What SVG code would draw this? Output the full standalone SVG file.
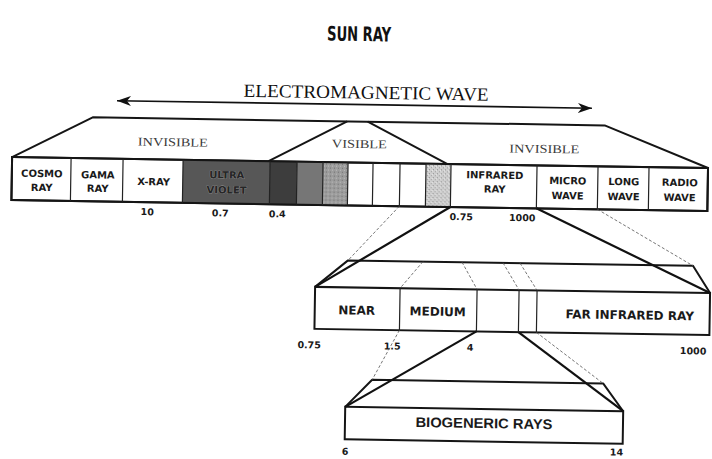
<svg xmlns="http://www.w3.org/2000/svg" width="712" height="459" viewBox="0 0 712 459">
<defs>
<style>
.o{fill:none;stroke:#151515;stroke-width:2;stroke-linejoin:round}
.box{fill:#fff;stroke:#151515;stroke-width:2}
.d{stroke:#222;stroke-width:1.2}
.t{fill:none;stroke:#555;stroke-width:0.8;stroke-dasharray:3 2}
.k{fill:none;stroke:#111;stroke-width:2.2}
.lb{font-family:"DejaVu Sans",Verdana,sans-serif;font-weight:bold;font-size:10px;fill:#1a1a1a;text-anchor:middle}
.lm{font-size:12px}
.num{font-size:9.5px}
.sf{font-family:"Liberation Serif","Times New Roman",serif;fill:#3a3a3a;text-anchor:middle}
.uv{fill:#262626;stroke:#9a9a9a;stroke-width:0.6;paint-order:stroke}
</style>
<marker id="ah" viewBox="0 0 14 10" refX="14" refY="5" markerWidth="14" markerHeight="10" markerUnits="userSpaceOnUse" orient="auto-start-reverse">
<path d="M0,0 L14,5 L0,10 L4,5 z" fill="#111"/>
</marker>
<pattern id="sp1" width="4" height="4" patternUnits="userSpaceOnUse">
<rect width="4" height="4" fill="#cfcfcf"/>
<rect x="0" y="0" width="1" height="1" fill="#8a8a8a"/>
<rect x="2" y="2" width="1" height="1" fill="#9a9a9a"/>
<rect x="3" y="1" width="1" height="1" fill="#eee"/>
</pattern>
<pattern id="sp2" width="4" height="4" patternUnits="userSpaceOnUse">
<rect width="4" height="4" fill="#9c9c9c"/>
<rect x="1" y="0" width="1" height="1" fill="#6e6e6e"/>
<rect x="3" y="2" width="1" height="1" fill="#c0c0c0"/>
</pattern>
</defs>
<rect width="712" height="459" fill="#fff"/>
<g transform="rotate(0.9 356 230)">

<g id="title">
<text x="356" y="41" font-family="'DejaVu Sans',sans-serif" font-stretch="condensed" font-weight="bold" font-size="20" fill="#111" text-anchor="middle" textLength="64" lengthAdjust="spacingAndGlyphs">SUN RAY</text>
</g>

<g id="em-wave">
<text x="364" y="98.5" font-family="'Liberation Serif',serif" font-size="18.5" fill="#111" text-anchor="middle" textLength="245" lengthAdjust="spacingAndGlyphs">ELECTROMAGNETIC WAVE</text>
<line x1="115" y1="104.5" x2="590" y2="104.5" stroke="#111" stroke-width="1.6" marker-start="url(#ah)" marker-end="url(#ah)"/>
</g>

<g id="bands">
<path class="o" d="M11,162.5 L91,121.5 L603,121.5 L707,162.5"/>
<path class="o" d="M267.5,162.5 L345.5,121.5 M366,121.5 L446,162.5"/>
<text class="sf" x="171.5" y="149" font-size="12" textLength="70" lengthAdjust="spacingAndGlyphs">INVISIBLE</text>
<text class="sf" x="358" y="148" font-size="12" textLength="55" lengthAdjust="spacingAndGlyphs">VISIBLE</text>
<text class="sf" x="543" y="150" font-size="12" textLength="70" lengthAdjust="spacingAndGlyphs">INVISIBLE</text>
</g>

<g id="spectrum-bar">
<rect class="box" x="11" y="162.5" width="696" height="43"/>
<rect x="182" y="162.5" width="87" height="43" fill="#575757"/>
<rect x="269" y="162.5" width="27" height="43" fill="#3d3d3d"/>
<rect x="296" y="162.5" width="26" height="43" fill="#767676"/>
<rect x="322" y="162.5" width="25" height="43" fill="url(#sp2)"/>
<rect x="425" y="162.5" width="25" height="43" fill="url(#sp1)"/>
<rect x="11" y="162.5" width="696" height="43" fill="none" stroke="#151515" stroke-width="2"/>
<path class="d" d="M70,162.5V205.5 M122,162.5V205.5 M182,162.5V205.5 M269,162.5V205.5 M296,162.5V205.5 M322,162.5V205.5 M347,162.5V205.5 M372,162.5V205.5 M399,162.5V205.5 M425,162.5V205.5 M450,162.5V205.5 M536,162.5V205.5 M597,162.5V205.5 M648,162.5V205.5"/>
</g>

<g id="cosmo-ray"><text class="lb" x="41" y="182"><tspan x="41">COSMO</tspan><tspan x="41" y="196">RAY</tspan></text></g>
<g id="gama-ray"><text class="lb" x="97" y="182.5"><tspan x="97">GAMA</tspan><tspan x="97" y="196">RAY</tspan></text></g>
<g id="x-ray"><text class="lb" x="153" y="188.5">X-RAY</text></g>
<g id="ultra-violet"><text class="lb uv" x="226" y="180.5"><tspan x="226">ULTRA</tspan><tspan x="226" y="195.5">VIOLET</tspan></text></g>
<g id="infrared-ray"><text class="lb" x="494" y="176.5"><tspan x="494">INFRARED</tspan><tspan x="494" y="190.5">RAY</tspan></text></g>
<g id="micro-wave"><text class="lb" x="567" y="181"><tspan x="567">MICRO</tspan><tspan x="567" y="196">WAVE</tspan></text></g>
<g id="long-wave"><text class="lb" x="623" y="181"><tspan x="623">LONG</tspan><tspan x="623" y="196">WAVE</tspan></text></g>
<g id="radio-wave"><text class="lb" x="679" y="181"><tspan x="679">RADIO</tspan><tspan x="679" y="196">WAVE</tspan></text></g>

<g id="bar-scale">
<text class="lb num" x="147" y="218.5">10</text>
<text class="lb num" x="220" y="218.5">0.7</text>
<text class="lb num" x="277" y="218.5">0.4</text>
<text class="lb num" x="461" y="218.5">0.75</text>
<text class="lb num" x="522" y="218.5">1000</text>
</g>

<g id="infrared-box">
<path class="o" d="M316,287.5 L348.5,260.5 L693.5,260.5 L711,287.5"/>
<rect class="box" x="316" y="287.5" width="395" height="42"/>
<path class="t" d="M423.5,260.5 L401,287.5 M462.5,260.5 L478,287.5 M503.5,260.5 L520,287.5 M520.5,260.5 L538,287.5"/>
<path class="d" d="M401,287.5V329.5 M478,287.5V329.5 M520,287.5V329.5 M538,287.5V329.5"/>
</g>
<g id="near"><text class="lb lm" x="358" y="314.5">NEAR</text></g>
<g id="medium"><text class="lb lm" x="439" y="314.5">MEDIUM</text></g>
<g id="far-infrared"><text class="lb lm" x="631" y="315">FAR INFRARED RAY</text></g>
<g id="infrared-scale">
<text class="lb num" x="311" y="349">0.75</text>
<text class="lb num" x="394" y="349">1.5</text>
<text class="lb num" x="472" y="349">4</text>
<text class="lb num" x="695" y="349">1000</text>
</g>

<g id="biogeneric-box">
<path class="o" d="M348,407 L374.5,379.5 L605.5,379.5 L626,407"/>
<rect class="box" x="348" y="407" width="278" height="32.5"/>
<text x="487" y="426" font-family="'Liberation Sans',Arial,sans-serif" font-weight="bold" font-size="14" fill="#1a1a1a" text-anchor="middle" textLength="137" lengthAdjust="spacingAndGlyphs">BIOGENERIC RAYS</text>
<text class="lb num" x="348.5" y="455">6</text>
<text class="lb num" x="620" y="451.5">14</text>
</g>

<g id="connectors">
<line class="k" x1="450" y1="205.5" x2="316" y2="287.5"/>
<line class="k" x1="536" y1="205.5" x2="711" y2="287.5"/>
<line class="t" x1="399" y1="205.5" x2="348.5" y2="260.5"/>
<line class="t" x1="597" y1="205.5" x2="693.5" y2="260.5"/>
<line class="k" x1="478" y1="329.5" x2="348" y2="407"/>
<line class="k" x1="520" y1="329.5" x2="626" y2="407"/>
<line class="t" x1="401" y1="329.5" x2="374.5" y2="379.5"/>
<line class="t" x1="538" y1="329.5" x2="605.5" y2="379.5"/>
</g>

</g>
</svg>
